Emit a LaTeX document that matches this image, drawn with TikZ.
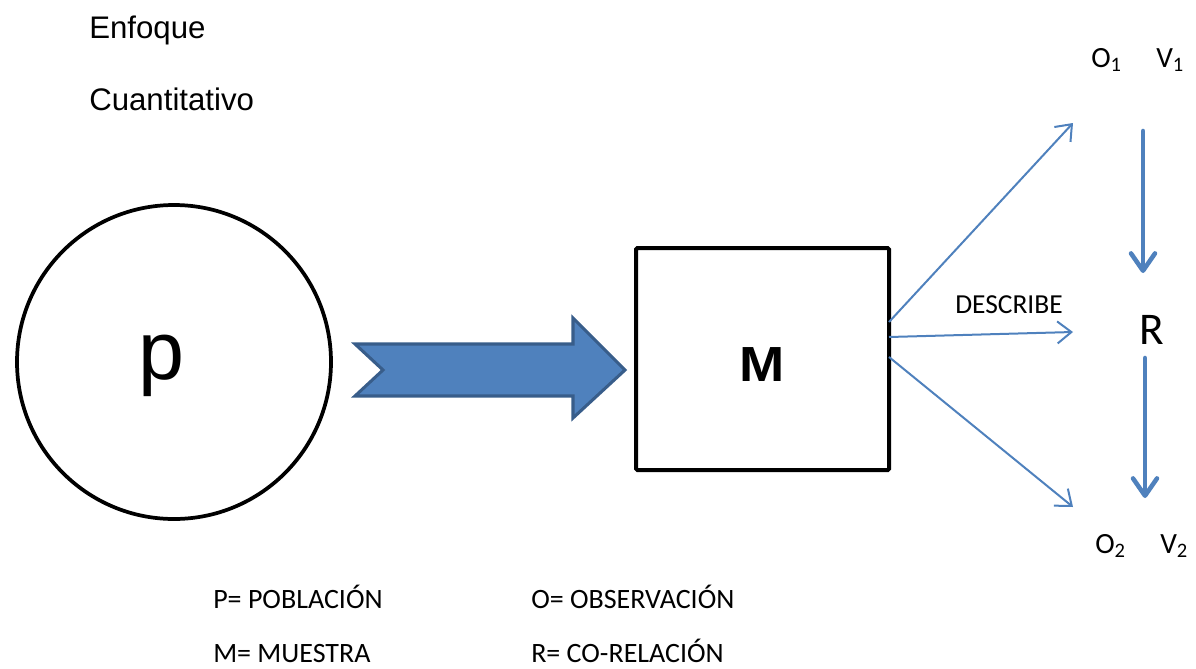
\documentclass[tikz,border=0pt]{standalone}
\usepackage{fontspec}
\setmainfont{Carlito}
\newfontfamily\arialf{Liberation Sans}
\usetikzlibrary{arrows.meta}
\definecolor{ablue}{RGB}{79,129,189}
\definecolor{aborder}{RGB}{56,93,138}
\begin{document}
\begin{tikzpicture}[x=0.75pt,y=-0.75pt,
  txt/.style={inner sep=0pt,anchor=base west},
  cal/.style={txt,font=\fontsize{21pt}{25pt}\selectfont},
  ari/.style={txt,font=\arialf\fontsize{23.4pt}{28pt}\selectfont},
  thin/.style={draw=ablue,line width=1.5pt,-{Straight Barb[length=10.5pt,width=16.5pt,line width=1.5pt]}},
  thick/.style={draw=ablue,line width=3.4pt,line cap=round,-{Straight Barb[length=13pt,width=18pt,line width=3.4pt,round]}}]
\useasboundingbox (0,0) rectangle (1196,668);
% texts
\node[ari] (enf) at (89,38) {Enfoque};
\node[ari] (cua) at (89,110) {Cuantitativo};
% population circle
\node[draw=black,line width=2.8pt,circle,minimum size=314*0.75pt,inner sep=0pt] (P) at (174,362) {};
\node[txt,font=\arialf\fontsize{62pt}{70pt}\selectfont] (p) at (138,379) {p};
% big arrow
\draw[fill=ablue,draw=aborder,line width=2.3pt,line join=miter]
  (355,344) -- (573,344) -- (573,318) -- (625,370) -- (573,418) -- (573,396) -- (355,396) -- (383,370) -- cycle;
% box
\node[draw=black,line width=3pt,rounded corners=1pt,minimum width=253*0.75pt,minimum height=222*0.75pt,inner sep=0pt] (Mbox) at (762.5,359) {};
\node[font=\arialf\bfseries\fontsize{37pt}{42pt}\selectfont,inner sep=0pt] (M) at (762,365) {\scalebox{1.1}[1]{M}};
% start/end points
\coordinate (s1) at (889,322);
\coordinate (s2) at (889,337);
\coordinate (s3) at (889,357);
\coordinate (e1) at (1073,123);
\coordinate (e2) at (1073,332);
\coordinate (e3) at (1073,507);
\draw[thin] (s1) -- (e1);
\draw[thin] (s2) -- (e2);
\draw[thin] (s3) -- (e3);
\node[cal,font=\fontsize{20.6pt}{25pt}\selectfont] (desc) at (955,313) {DESCRIBE};
% right column
\node[cal,font=\fontsize{22pt}{26pt}\selectfont] (O1) at (1091,67) {O\textsubscript{1}};
\node[cal,font=\fontsize{22pt}{26pt}\selectfont] (V1) at (1156,67) {V\textsubscript{1}};
\node[cal,font=\fontsize{22pt}{26pt}\selectfont] (O2) at (1095,553) {O\textsubscript{2}};
\node[cal,font=\fontsize{22pt}{26pt}\selectfont] (V2) at (1160,553) {V\textsubscript{2}};
\node[cal,font=\fontsize{34pt}{38pt}\selectfont] (R) at (1139,344) {R};
\coordinate (a1) at (1143,131);
\coordinate (a2) at (1143,273);
\coordinate (b1) at (1145,358);
\coordinate (b2) at (1145,498);
\draw[thick] (a1) -- (a2);
\draw[thick] (b1) -- (b2);
% legend
\node[cal] (l1) at (213,608) {P= POBLACIÓN};
\node[cal] (l2) at (213,662) {M= MUESTRA};
\node[cal] (l3) at (531,608) {O= OBSERVACIÓN};
\node[cal] (l4) at (531,662) {R= CO-RELACIÓN};
\end{tikzpicture}
\end{document}
